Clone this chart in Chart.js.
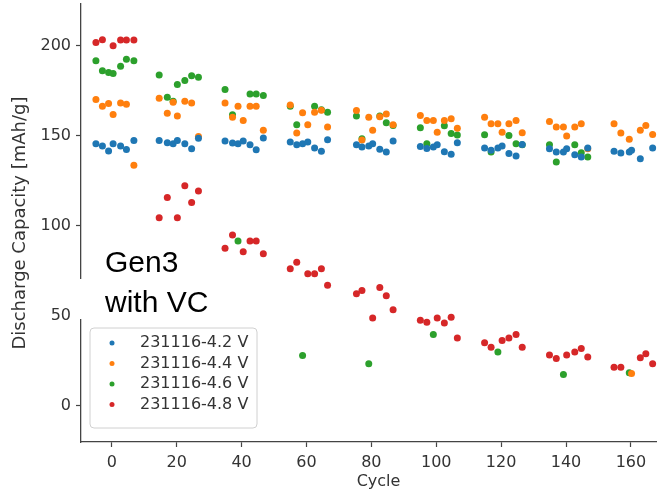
<!DOCTYPE html>
<html>
<head>
<meta charset="utf-8">
<script src="https://cdn.jsdelivr.net/npm/chart.js@4"></script>
<style>
  html, body { margin: 0; padding: 0; background: #fff; overflow: hidden; }
  canvas { display: block; }
</style>
</head>
<body>
<canvas id="c" width="680" height="491"></canvas>
<script>
// cycle positions, 7 per group (shared by all four series)
const cycles = [
  -4.9, -2.9, -1.0, 0.4, 2.7, 4.5, 6.8,
  14.6, 17.1, 18.9, 20.2, 22.5, 24.6, 26.7,
  34.9, 37.2, 38.9, 40.5, 42.6, 44.5, 46.7,
  55.0, 57.0, 58.8, 60.4, 62.5, 64.6, 66.5,
  75.4, 77.1, 79.2, 80.4, 82.6, 84.6, 86.7,
  95.1, 97.1, 99.1, 100.3, 102.5, 104.6, 106.5,
  114.9, 116.9, 119.0, 120.3, 122.4, 124.6, 126.5,
  134.9, 137.0, 139.2, 140.2, 142.7, 144.7, 146.7,
  154.8, 156.9, 159.5, 160.2, 162.9, 164.6, 166.7
];

const cap42 = [
  145.5, 144.2, 141.4, 145.5, 144.2, 142.3, 147.3,
  147.3, 146.0, 145.5, 147.3, 145.5, 142.7, 148.5,
  147.0, 145.9, 145.5, 147.0, 144.9, 142.2, 148.6,
  146.4, 144.9, 145.5, 146.4, 143.1, 141.3, 147.7,
  144.9, 143.6, 144.2, 145.5, 142.4, 140.9, 147.0,
  144.0, 142.8, 143.6, 144.9, 141.0, 139.7, 146.0,
  143.1, 141.9, 143.1, 144.2, 140.0, 138.7, 145.0,
  142.7, 140.9, 140.9, 142.7, 139.4, 138.1, 143.1,
  141.3, 140.4, 140.9, 141.9, 137.2, null, 143.1
];

const cap44 = [
  170.0, 166.3, 167.8, 161.7, 168.1, 167.4, 133.5,
  170.7, 162.4, 168.5, 160.8, 169.1, 168.1, 149.5,
  168.1, 160.2, 166.3, 158.4, 166.3, 166.3, 152.9,
  167.0, 151.4, 162.6, 156.0, 163.0, 164.0, 154.7,
  163.9, 147.5, 160.2, 152.9, 160.5, 162.0, 156.0,
  161.2, 158.4, 158.4, 151.9, 158.4, 159.3, 154.1,
  160.2, 156.5, 156.5, 151.9, 156.5, 158.4, 151.6,
  157.8, 154.7, 154.7, 149.7, 154.7, 156.5, 142.7,
  156.5, 151.5, 147.9, 18.0, 152.9, 155.6, 150.6
];

const cap46 = [
  191.5, 186.0, 185.0, 184.5, 188.4, 192.4, 191.5,
  183.6, 171.3, 169.1, 178.3, 180.5, 183.2, 182.3,
  175.5, 161.5, 91.5, null, 173.1, 173.1, 172.2,
  166.3, 156.0, 28.0, null, 166.3, 164.3, 163.0,
  160.8, 148.2, 23.4, null, 160.8, 157.1, 155.6,
  154.3, 145.5, 39.6, null, 155.4, 151.2, 150.3,
  150.4, 140.9, 30.0, null, 150.1, 145.5, 144.9,
  144.9, 135.4, 17.5, null, 144.9, 140.5, 138.1,
  null, null, 18.4, null, null, null, null
];

const cap48 = [
  201.7, 203.1, null, 199.8, 203.0, 203.0, 203.0,
  104.4, 115.6, null, 104.4, 122.1, 112.9, 119.3,
  87.5, 94.8, null, 85.6, 91.5, 91.5, 84.4,
  76.1, 79.7, null, 73.3, 73.3, 76.1, 66.9,
  62.2, 64.1, null, 48.8, 65.7, 61.1, 53.4,
  47.5, 46.4, null, 48.8, 46.0, 49.2, 37.7,
  35.0, 32.6, null, 36.3, 37.7, 39.6, 32.6,
  28.2, 26.3, null, 28.2, 30.0, 31.9, 27.2,
  21.5, 21.5, null, null, 26.7, 28.9, 23.4
];

const labels = ['231116-4.2 V', '231116-4.4 V', '231116-4.6 V', '231116-4.8 V'];
const colors = ['#1f77b4', '#ff7f0e', '#2ca02c', '#d62728'];
const xTicks = [0, 20, 40, 60, 80, 100, 120, 140, 160];
const yTicks = [0, 50, 100, 150, 200];

const series = [cap42, cap44, cap46, cap48];

function pts(vals) {
  const out = [];
  vals.forEach((v, i) => { if (v !== null) out.push({ x: cycles[i], y: v }); });
  return out;
}

// caption pasted on the figure + matplotlib-like legend box
const overlay = {
  id: 'overlay',
  afterDraw(chart) {
    const ctx = chart.ctx;
    ctx.save();
    ctx.fillStyle = '#fff';
    ctx.fillRect(83, 243, 124, 35);
    ctx.fillRect(76, 279, 182, 40);
    ctx.fillStyle = '#000';
    ctx.font = '30px "Liberation Sans", Arial, sans-serif';
    ctx.textBaseline = 'alphabetic';
    ctx.fillText('Gen3', 105, 272);
    ctx.fillText('with VC', 105, 312);

    // legend
    const lx = 90, ly = 328, lw = 167, lh = 100, r = 4;
    ctx.beginPath();
    ctx.moveTo(lx + r, ly);
    ctx.arcTo(lx + lw, ly, lx + lw, ly + lh, r);
    ctx.arcTo(lx + lw, ly + lh, lx, ly + lh, r);
    ctx.arcTo(lx, ly + lh, lx, ly, r);
    ctx.arcTo(lx, ly, lx + lw, ly, r);
    ctx.closePath();
    ctx.fillStyle = 'rgba(255,255,255,0.85)';
    ctx.fill();
    ctx.strokeStyle = '#d0d0d0';
    ctx.lineWidth = 1;
    ctx.stroke();

    ctx.font = '16px "DejaVu Sans", sans-serif';
    ctx.textBaseline = 'middle';
    labels.forEach((lab, i) => {
      const y = 343 + i * 20.5;
      ctx.beginPath();
      ctx.arc(112, y, 2.5, 0, Math.PI * 2);
      ctx.fillStyle = colors[i];
      ctx.fill();
      ctx.fillStyle = '#333';
      ctx.fillText(lab, 140, y);
    });
    ctx.restore();
  }
};

const axisFont = { family: 'DejaVu Sans', size: 16 };

new Chart(document.getElementById('c'), {
  type: 'scatter',
  data: {
    datasets: series.map((vals, i) => ({
      label: labels[i],
      data: pts(vals),
      backgroundColor: colors[i],
      borderColor: colors[i],
      borderWidth: 0,
      pointRadius: 3.5
    }))
  },
  options: {
    responsive: false,
    animation: false,
    layout: { padding: 0 },
    plugins: { legend: { display: false }, tooltip: { enabled: false } },
    scales: {
      x: {
        type: 'linear',
        min: -9.5,
        max: 173.9,
        afterBuildTicks: s => { s.ticks = xTicks.map(v => ({ value: v })); },
        afterFit: s => { s.height = 49; s.paddingLeft = 0; s.paddingRight = 0; },
        grid: { drawOnChartArea: false, drawTicks: true, tickLength: 5, tickColor: '#444', tickWidth: 1.2 },
        border: { color: '#444', width: 1.3 },
        ticks: { color: '#333', font: axisFont, padding: 6, maxRotation: 0 },
        title: { display: true, text: 'Cycle', color: '#333', font: { family: 'DejaVu Sans', size: 16 }, padding: { top: 0, bottom: 0 } }
      },
      y: {
        type: 'linear',
        min: -20,
        max: 223,
        afterBuildTicks: s => { s.ticks = yTicks.map(v => ({ value: v })); },
        afterFit: s => { s.width = 81; s.paddingTop = 0; s.paddingBottom = 0; },
        grid: { drawOnChartArea: false, drawTicks: true, tickLength: 5, tickColor: '#444', tickWidth: 1.2 },
        border: { color: '#444', width: 1.3 },
        ticks: { color: '#333', font: axisFont, padding: 5 },
        title: { display: true, text: 'Discharge Capacity [mAh/g]', color: '#333', font: { family: 'DejaVu Sans', size: 18 }, padding: { top: 10, bottom: 0 } }
      }
    }
  },
  plugins: [overlay]
});
</script>
</body>
</html>
